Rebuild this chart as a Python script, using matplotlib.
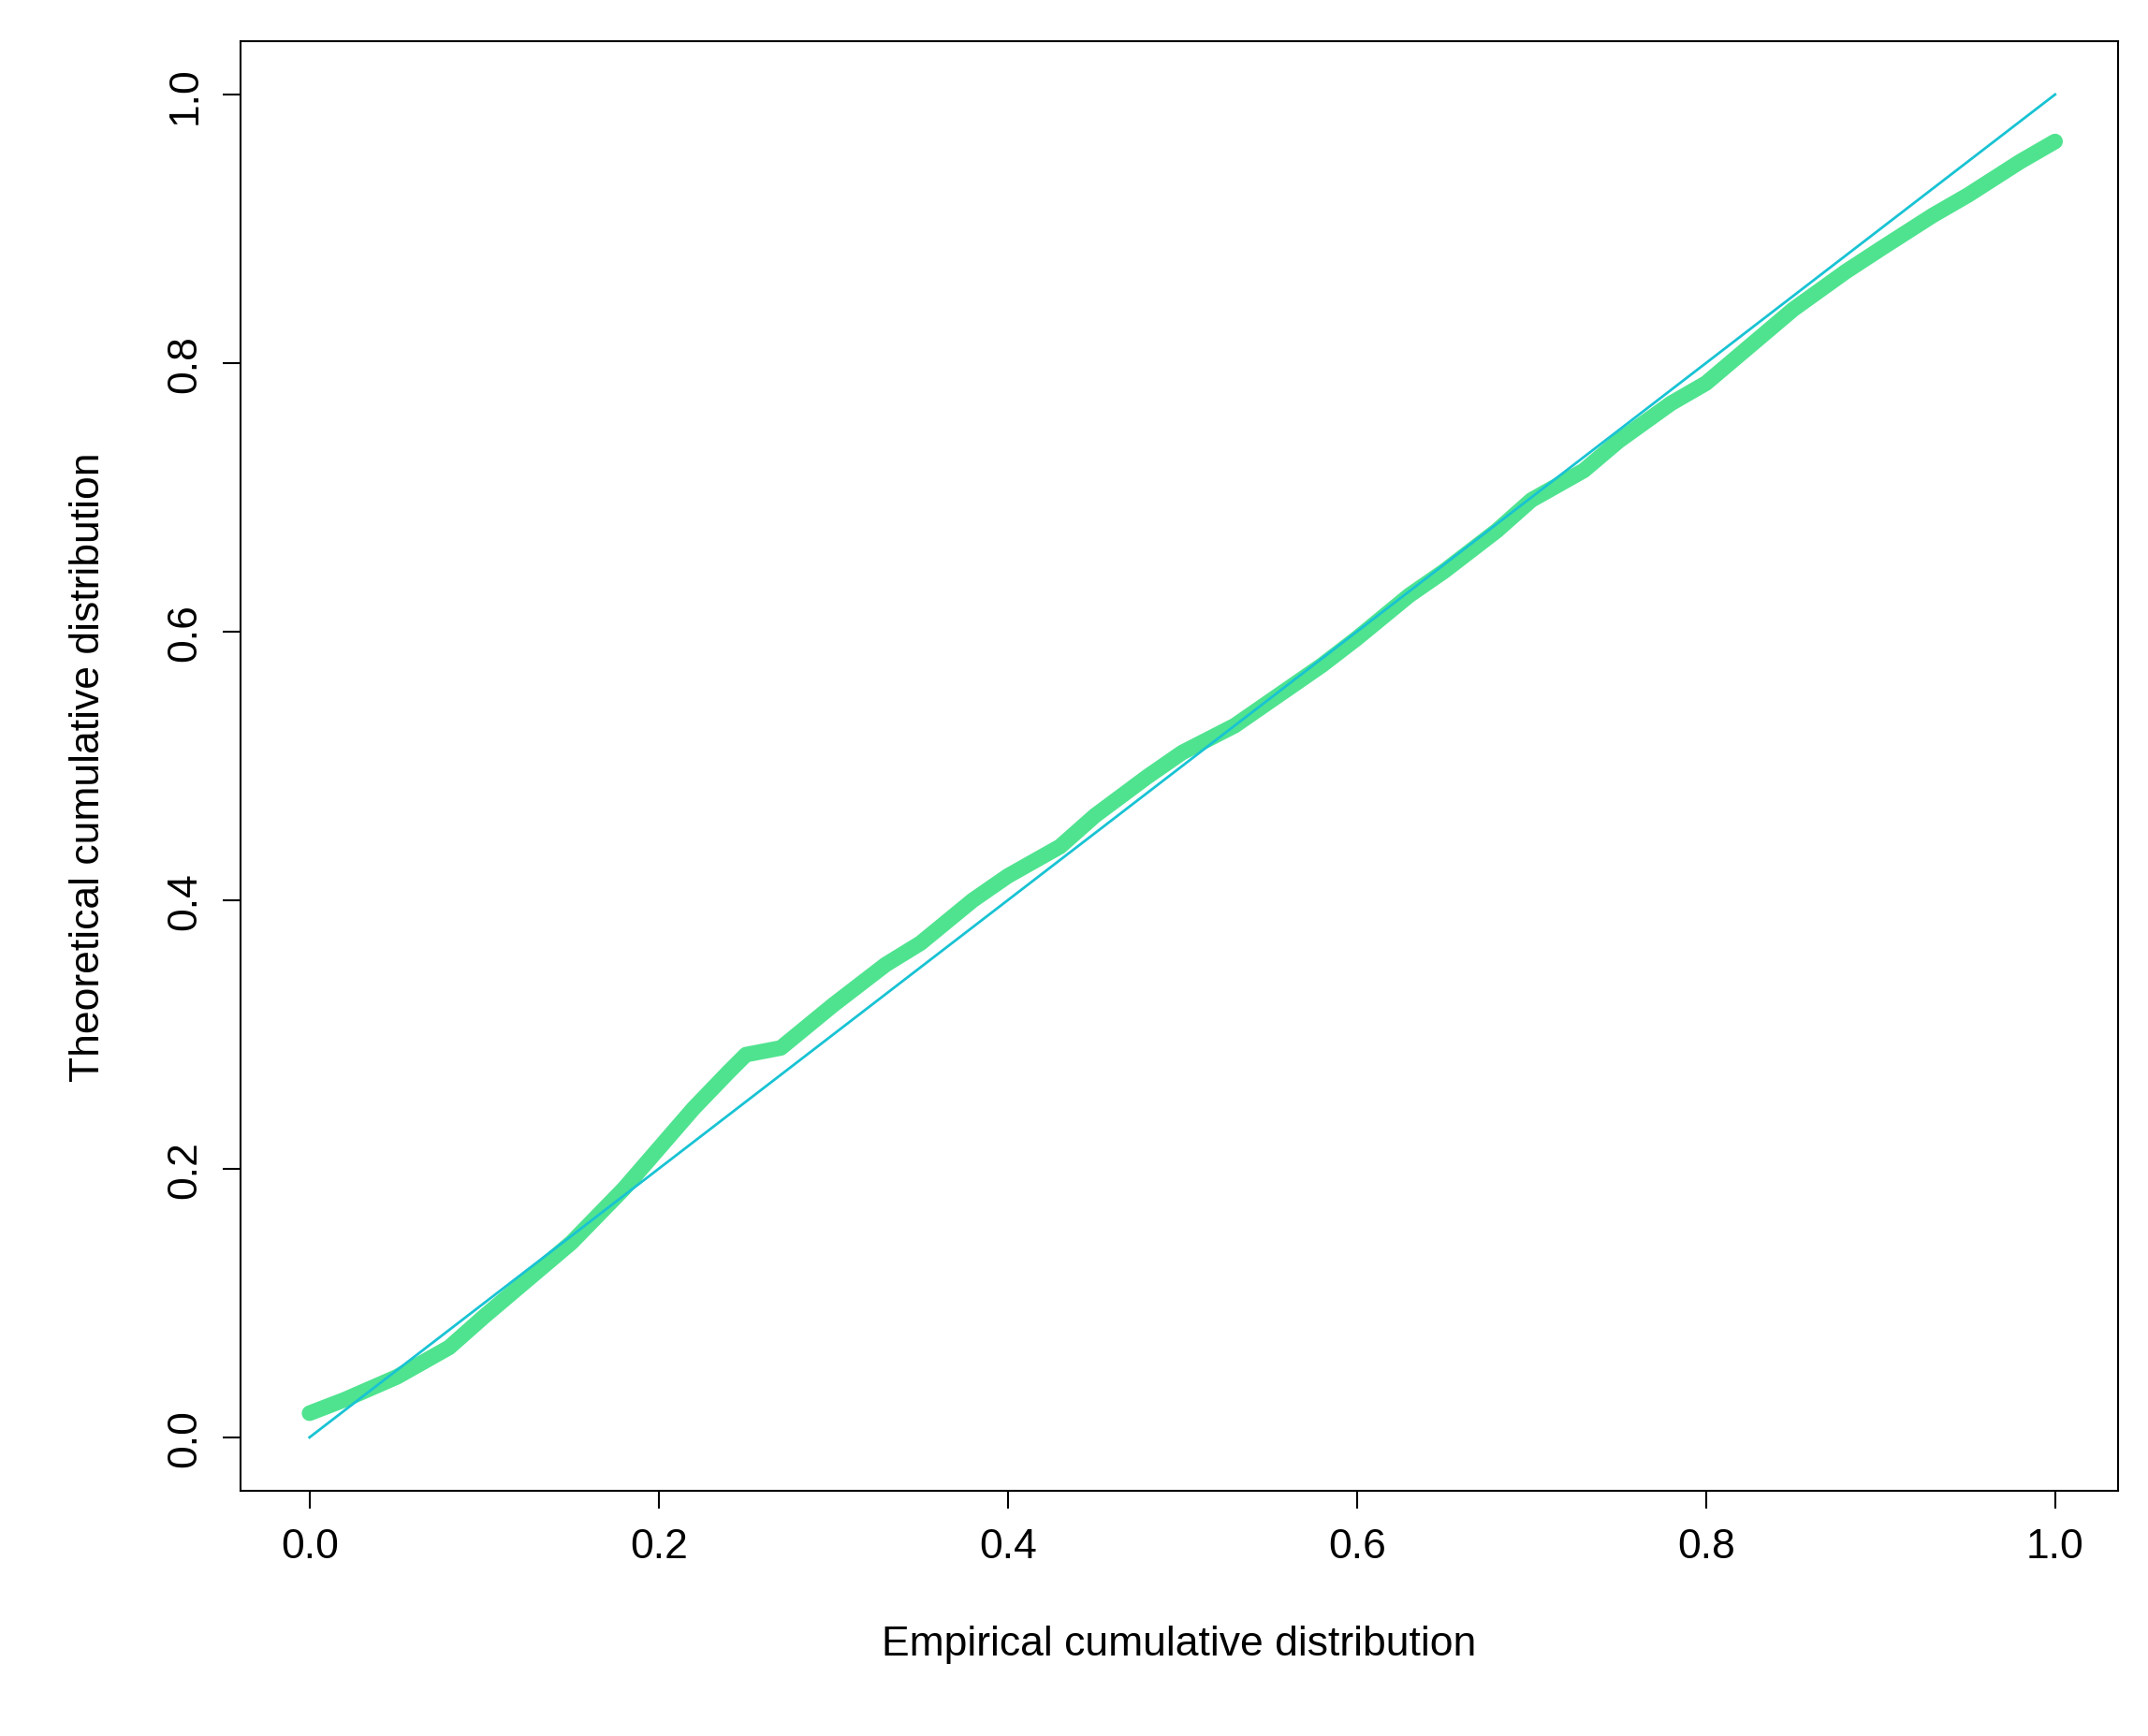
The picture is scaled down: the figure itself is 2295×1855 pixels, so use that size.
import matplotlib
matplotlib.use("Agg")
import matplotlib.pyplot as plt

plt.rcParams['font.family'] = ['Liberation Sans', 'DejaVu Sans']

emp_x = [0.0, 0.02, 0.05, 0.08, 0.1, 0.12, 0.15, 0.18, 0.2, 0.22, 0.24, 0.25, 0.27, 0.3, 0.33, 0.35,
         0.38, 0.4, 0.43, 0.45, 0.48, 0.5, 0.53, 0.55, 0.58, 0.6, 0.63, 0.65, 0.68, 0.7, 0.73, 0.75,
         0.78, 0.8, 0.83, 0.85, 0.88, 0.9, 0.93, 0.95, 0.98, 1.0]
theo_y = [0.018, 0.028, 0.045, 0.067, 0.09, 0.112, 0.145, 0.185, 0.215, 0.245, 0.272, 0.285, 0.29, 0.322, 0.352, 0.368,
          0.4, 0.418, 0.44, 0.463, 0.492, 0.51, 0.53, 0.548, 0.575, 0.595, 0.627, 0.645, 0.675, 0.698, 0.72, 0.742,
          0.77, 0.785, 0.818, 0.84, 0.868, 0.885, 0.91, 0.925, 0.95, 0.965]
ref_x = [0.0, 1.0]
ref_y = [0.0, 1.0]
ticks = [0.0, 0.2, 0.4, 0.6, 0.8, 1.0]

fig = plt.figure(figsize=(22.95, 18.56), dpi=100)
ax = fig.add_axes([0.112, 0.141, 0.874, 0.835])
ax.plot(emp_x, theo_y, color="#4fe38f", lw=12, solid_capstyle="round", solid_joinstyle="round")
ax.plot(ref_x, ref_y, color="#18c3d3", lw=2)
ax.set_xlim(-0.0395, 1.036)
ax.set_ylim(-0.04, 1.04)
ax.set_xticks(ticks)
ax.set_yticks(ticks)
ax.set_xticklabels([f"{t:.1f}" for t in ticks], fontsize=32)
ax.set_yticklabels([f"{t:.1f}" for t in ticks], fontsize=32, rotation=90, va="center")
ax.tick_params(length=14, width=1.5, pad=14)
ax.spines[:].set_linewidth(1.5)
ax.set_xlabel("Empirical cumulative distribution", fontsize=32, labelpad=45)
ax.set_ylabel("Theoretical cumulative distribution", fontsize=32, labelpad=45)
fig.savefig("out.png", dpi=100)
